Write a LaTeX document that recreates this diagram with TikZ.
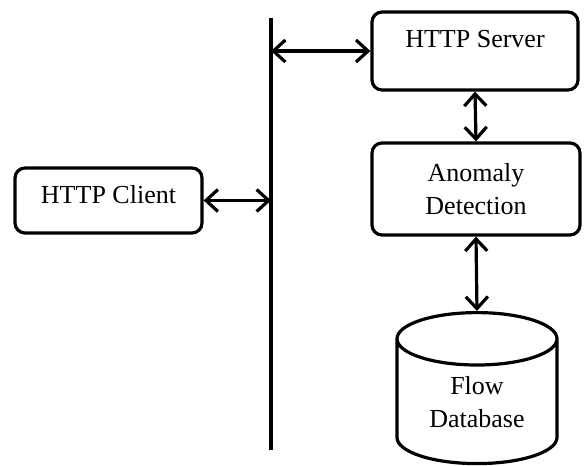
\documentclass[tikz,border=0pt]{standalone}
\usepackage{fontspec}
\setmainfont{Liberation Serif}
\usetikzlibrary{arrows.meta,shapes.geometric}
\tikzset{
  blk/.style={draw,line width=1.6pt,rounded corners=5pt,inner sep=0pt,align=center},
  link/.style={line width=1.6pt,{Straight Barb[length=6pt,width=11pt]}-{Straight Barb[length=6pt,width=11pt]}}
}
\begin{document}
\begin{tikzpicture}[x=0.5pt,y=-0.5pt,font=\fontsize{13}{16.5}\selectfont]
        \useasboundingbox (0,0) rectangle (584,466);
        %% Shared line
        \coordinate (bustop) at (271,18);
        \coordinate (busbot) at (271,450);
        \draw[line width=1.6pt] (bustop) -- (busbot);
        %% Boxes
        \node[blk,anchor=base,minimum width=103pt,text height=17.5pt,text depth=21.5pt] (server) at (475,47) {HTTP Server};
        \node[blk,minimum width=104pt,minimum height=46pt] (anomaly) at (476,189) {Anomaly\\Detection};
        \node[blk,anchor=base,minimum width=93.5pt,text height=17.5pt,text depth=15pt] (client) at (108.5,203) {HTTP Client};
        \node[draw,line width=1.6pt,cylinder,shape border rotate=90,aspect=0.55,
              minimum width=80pt,minimum height=75.5pt,align=center,inner sep=0pt] (flowdb) at (477,402) {Flow\\Database};
        %% Connectors
        \draw[link] (server.west -| bustop) -- (server.west);
        \draw[link] (client.east) -- (client.east -| bustop);
        \draw[link] (server.south) -- (anomaly.north);
        \draw[link] (anomaly.south) -- (flowdb.north);
    \end{tikzpicture}
\end{document}
